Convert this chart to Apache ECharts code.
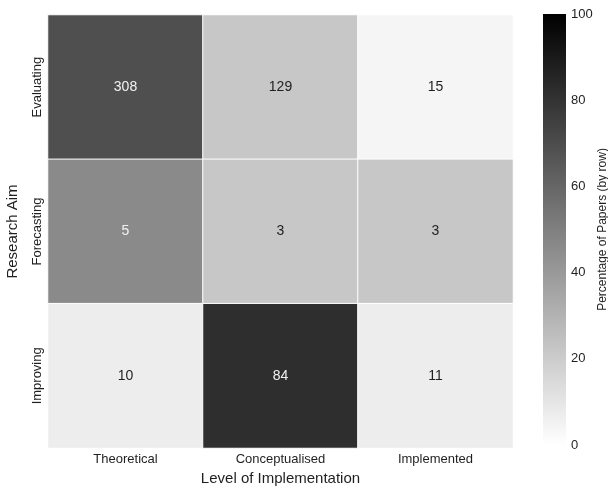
<!DOCTYPE html>
<html>
<head>
<meta charset="utf-8">
<script src="https://cdn.jsdelivr.net/npm/echarts@6/dist/echarts.min.js"></script>
<style>html,body{margin:0;padding:0;background:#fff;}#c{width:608px;height:488px;}</style>
</head>
<body>
<div id="c"></div>
<script>
const levels = ['Theoretical', 'Conceptualised', 'Implemented'];
const aims = ['Evaluating', 'Forecasting', 'Improving'];
const counts = [
  [308, 129, 15],
  [5, 3, 3],
  [10, 84, 11]
];
const rowPct = [
  [69, 22, 4],
  [46, 22, 22],
  [7, 82, 7]
];
const cbarTicks = [0, 20, 40, 60, 80, 100];

const font = 'Liberation Sans, Arial, sans-serif';
const data = [];
aims.forEach((a, i) => {
  levels.forEach((l, j) => {
    const p = rowPct[i][j];
    data.push({
      value: [j, i, p, counts[i][j]],
      label: { color: p > 40 ? '#f2f2f2' : '#1f1f1f' }
    });
  });
});

const chart = echarts.init(document.getElementById('c'), null, { renderer: 'canvas' });
chart.setOption({
  animation: false,
  backgroundColor: '#fff',
  textStyle: { fontFamily: font },
  grid: [
    { left: 48, top: 15, width: 465, height: 433, containLabel: false, outerBoundsMode: 'none' },
    { left: 543, top: 14, width: 23, height: 431, containLabel: false, outerBoundsMode: 'none' }
  ],
  xAxis: [
    {
      type: 'category', gridIndex: 0, data: levels,
      axisLine: { show: false }, axisTick: { show: false }, splitLine: { show: false },
      axisLabel: { fontSize: 13, color: '#1f1f1f', margin: 5, fontFamily: font },
      name: 'Level of Implementation', nameLocation: 'middle', nameGap: 22,
      nameTextStyle: { fontSize: 15, color: '#1f1f1f', fontFamily: font }
    },
    {
      type: 'category', gridIndex: 1, data: [''],
      axisLine: { show: false }, axisTick: { show: false }, axisLabel: { show: false },
      splitLine: { show: false }
    }
  ],
  yAxis: [
    {
      type: 'category', gridIndex: 0, data: aims, inverse: true,
      axisLine: { show: false }, axisTick: { show: false }, splitLine: { show: false },
      axisLabel: { fontSize: 13, color: '#1f1f1f', rotate: 90, margin: 4, fontFamily: font },
      name: 'Research Aim', nameLocation: 'middle', nameGap: 28,
      nameTextStyle: { fontSize: 15, color: '#1f1f1f', fontFamily: font }
    },
    {
      type: 'value', gridIndex: 1, position: 'right',
      min: cbarTicks[0], max: cbarTicks[cbarTicks.length - 1], interval: 20,
      axisLine: { show: false }, axisTick: { show: false }, splitLine: { show: false },
      axisLabel: { fontSize: 13, color: '#1f1f1f', margin: 5, fontFamily: font },
      name: 'Percentage of Papers (by row)', nameLocation: 'middle', nameGap: 22, nameRotate: 90,
      nameTextStyle: { fontSize: 12, color: '#1f1f1f', fontFamily: font }
    }
  ],
  visualMap: {
    show: false, type: 'continuous', min: 0, max: 100, dimension: 2, seriesIndex: 0,
    inRange: { color: ['#ffffff', '#000000'] }
  },
  series: [
    {
      type: 'heatmap', xAxisIndex: 0, yAxisIndex: 0, data: data,
      itemStyle: { borderColor: '#ffffff', borderWidth: 1 },
      label: {
        show: true, fontSize: 14, fontFamily: font,
        formatter: p => String(p.value[3])
      },
      emphasis: { disabled: true }
    },
    {
      type: 'bar', xAxisIndex: 1, yAxisIndex: 1, data: [cbarTicks[cbarTicks.length - 1]],
      barWidth: '100%', silent: true,
      itemStyle: {
        color: {
          type: 'linear', x: 0, y: 0, x2: 0, y2: 1,
          colorStops: [{ offset: 0, color: '#000000' }, { offset: 1, color: '#ffffff' }]
        }
      }
    }
  ]
});
</script>
</body>
</html>
